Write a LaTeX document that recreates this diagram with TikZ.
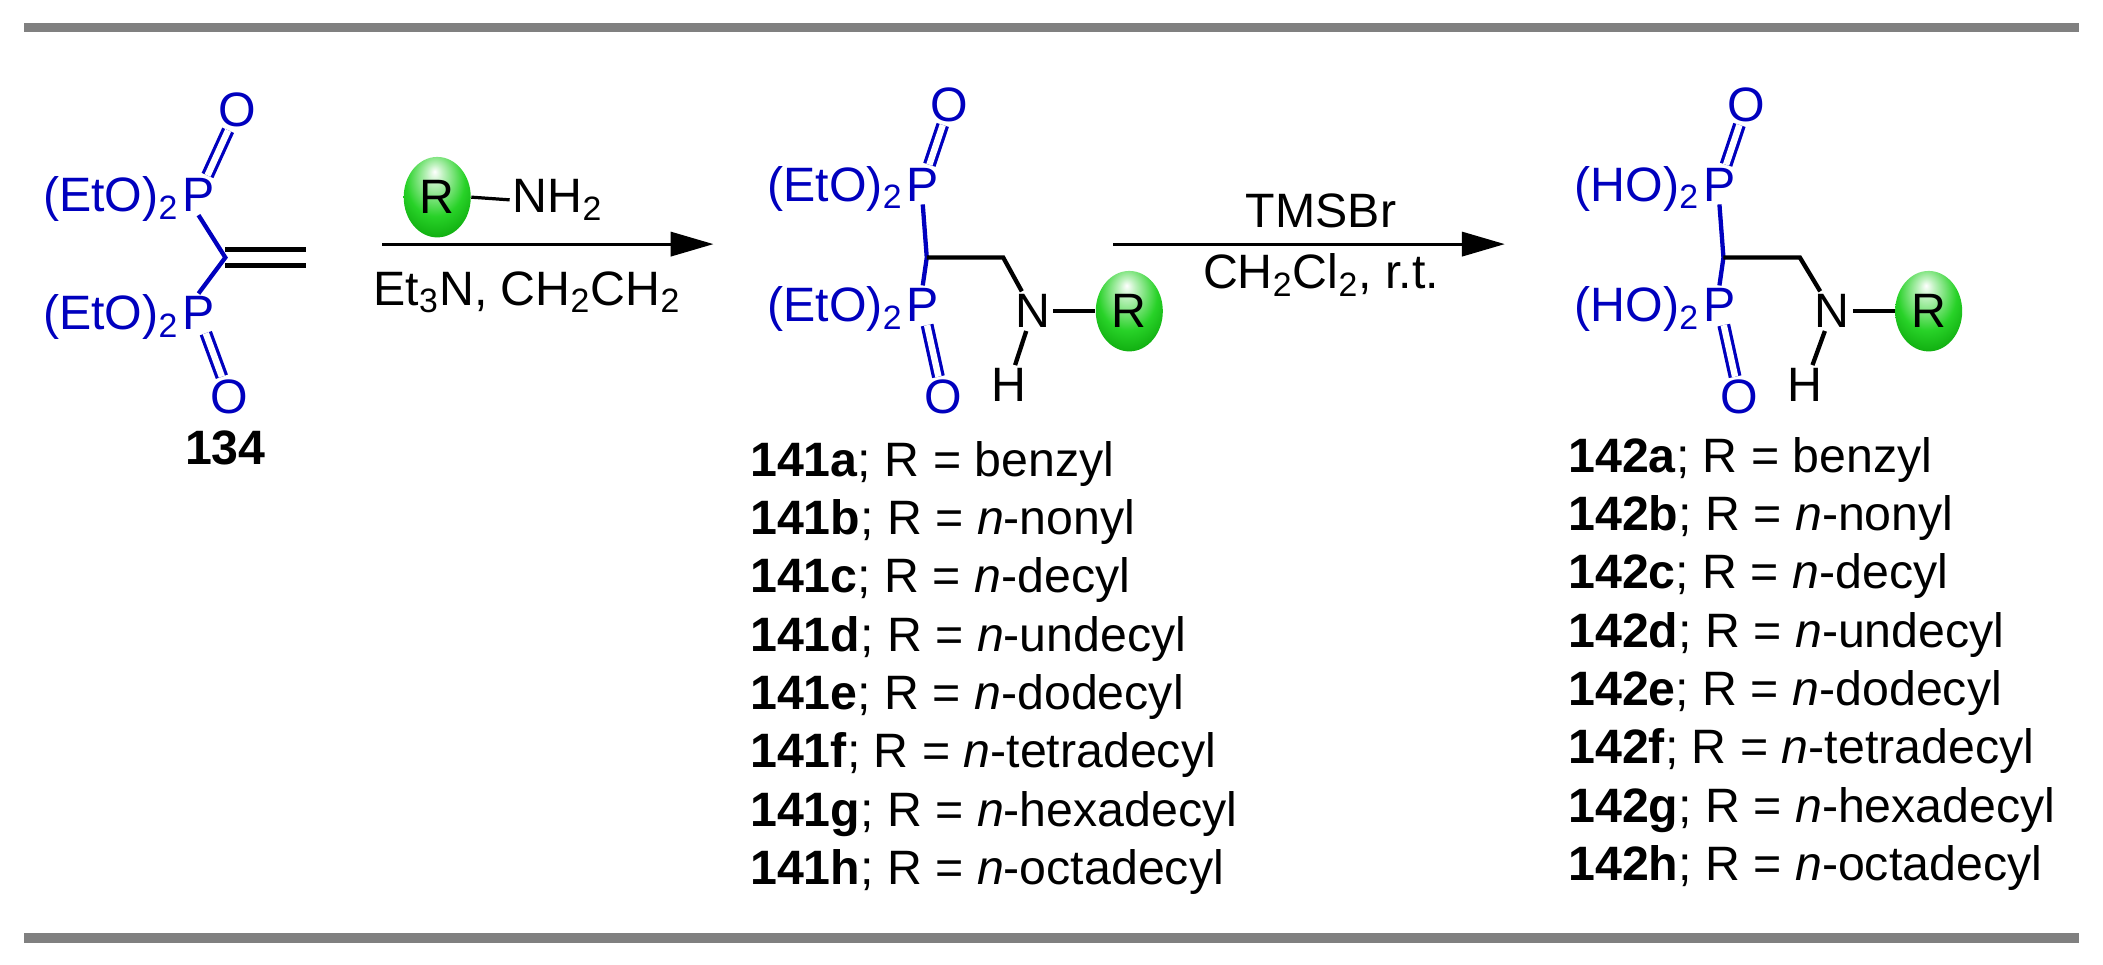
\documentclass[tikz,border=0pt]{standalone}
\usepackage{fontspec}
\setmainfont{Liberation Sans}
\usetikzlibrary{arrows.meta,shapes.geometric}
\definecolor{pblue}{RGB}{0,0,190}
\definecolor{rgray}{RGB}{128,128,128}
\definecolor{bgreen}{RGB}{40,210,40}
\definecolor{dgreen}{RGB}{0,150,0}
\pgfdeclareradialshading{gball}{\pgfpoint{-2bp}{16bp}}{color(0bp)=(white); color(6bp)=(white!70!bgreen); color(22bp)=(bgreen); color(40bp)=(dgreen); color(60bp)=(dgreen)}
\newcommand{\sbs}[1]{\textsubscript{#1}}
\begin{document}
\begin{tikzpicture}[x=0.5pt,y=-0.5pt,
  every node/.style={inner sep=1pt,font=\fontsize{18}{21}\selectfont},
  bl/.style={text=pblue},
  bond/.style={line width=1.6pt,pblue},
  kbond/.style={line width=1.6pt,black},
  dbl/.style={bond,double,double distance=2.4pt,line width=1.2pt},
  ball/.style={ellipse,minimum width=25pt,minimum height=30pt,shading=gball,inner sep=0pt},
  arr/.style={line width=1.2pt,-{Triangle[length=16pt,width=9pt]}},
  lst/.style={anchor=base west}]
\useasboundingbox (0,0) rectangle (1568,719);
\fill[rgray] (18,17) rectangle (1550,24);
\fill[rgray] (18,696) rectangle (1550,703);
% ---- molecule 134
\node[bl,anchor=base] (p1) at (148,158) {P};
\node[bl,anchor=base east,inner sep=0pt] (e1) at (p1.base west) {(EtO)\sbs{2}};
\node[bl] (o1) at (177,82) {O};
\coordinate (c1) at (168,192);
\node[bl,anchor=base] (p2) at (148,246) {P};
\node[bl,anchor=base east,inner sep=0pt] (e2) at (p2.base west) {(EtO)\sbs{2}};
\node[bl] (o2) at (171,296) {O};
\coordinate (v1) at (228,186); \coordinate (v2) at (228,198);
\draw[dbl] (p1) -- (o1);
\draw[dbl] (p2) -- (o2);
\draw[bond] (p1.south) -- (c1) -- (p2.north);
\draw[kbond] (c1|-v1) -- (v1);
\draw[kbond] (c1|-v2) -- (v2);
\node[font=\fontsize{18}{21}\selectfont\bfseries] (n134) at (168,334) {134};
% ---- arrow 1
\coordinate (a1s) at (285,182); \coordinate (a1e) at (532,182);
\draw[arr] (a1s) -- (a1e);
\node[ball] (rb0) at (326,147) {R};
\node[anchor=west] (nh2) at (380,149) {NH\sbs{2}};
\draw[line width=1.2pt] (rb0.east) -- (nh2.west);
\node (cond1) at (393,218) {Et\sbs{3}N, CH\sbs{2}CH\sbs{2}};
% ---- molecule 141
\node[bl,anchor=base] (p3) at (688,150) {P};
\node[bl,anchor=base east,inner sep=0pt] (e3) at (p3.base west) {(EtO)\sbs{2}};
\node[bl] (o3) at (708,78) {O};
\coordinate (c3) at (691,192);
\node[bl,anchor=base] (p4) at (688,240) {P};
\node[bl,anchor=base east,inner sep=0pt] (e4) at (p4.base west) {(EtO)\sbs{2}};
\node[bl] (o4) at (703,296) {O};
\coordinate (m3) at (748,192);
\node (nn3) at (770,232) {N};
\node (h3) at (752,287) {H};
\node[ball] (rb3) at (842,232) {R};
\draw[dbl] (p3) -- (o3);
\draw[dbl] (p4) -- (o4);
\draw[bond] (p3.south) -- (c3) -- (p4.north);
\draw[kbond] (c3) -- (m3) -- (nn3);
\draw[kbond] (nn3) -- (h3);
\draw[kbond] (nn3) -- (rb3);
% ---- arrow 2
\coordinate (a2s) at (830,182); \coordinate (a2e) at (1122,182);
\draw[arr] (a2s) -- (a2e);
\node (t2) at (985,157) {TMSBr};
\node (cond2) at (985,205) {CH\sbs{2}Cl\sbs{2}, r.t.};
% ---- molecule 142
\node[bl,anchor=base] (p5) at (1282,150) {P};
\node[bl,anchor=base east,inner sep=0pt] (e5) at (p5.base west) {(HO)\sbs{2}};
\node[bl] (o5) at (1302,78) {O};
\coordinate (c5) at (1285,192);
\node[bl,anchor=base] (p6) at (1282,240) {P};
\node[bl,anchor=base east,inner sep=0pt] (e6) at (p6.base west) {(HO)\sbs{2}};
\node[bl] (o6) at (1297,296) {O};
\coordinate (m5) at (1342,192);
\node (nn5) at (1366,232) {N};
\node (h5) at (1346,287) {H};
\node[ball] (rb5) at (1438,232) {R};
\draw[dbl] (p5) -- (o5);
\draw[dbl] (p6) -- (o6);
\draw[bond] (p5.south) -- (c5) -- (p6.north);
\draw[kbond] (c5) -- (m5) -- (nn5);
\draw[kbond] (nn5) -- (h5);
\draw[kbond] (nn5) -- (rb5);
% ---- lists
\foreach \l/\r [count=\i from 0] in {a/benzyl,b/\textit{n}-nonyl,c/\textit{n}-decyl,d/\textit{n}-undecyl,e/\textit{n}-dodecyl,f/\textit{n}-tetradecyl,g/\textit{n}-hexadecyl,h/\textit{n}-octadecyl}{
  \node[lst] (la\i) at (557,{355+43.5*\i}) {\textbf{141\l}; R = \r};
  \node[lst] (lb\i) at (1167,{352+43.5*\i}) {\textbf{142\l}; R = \r};
}
\end{tikzpicture}
\end{document}
